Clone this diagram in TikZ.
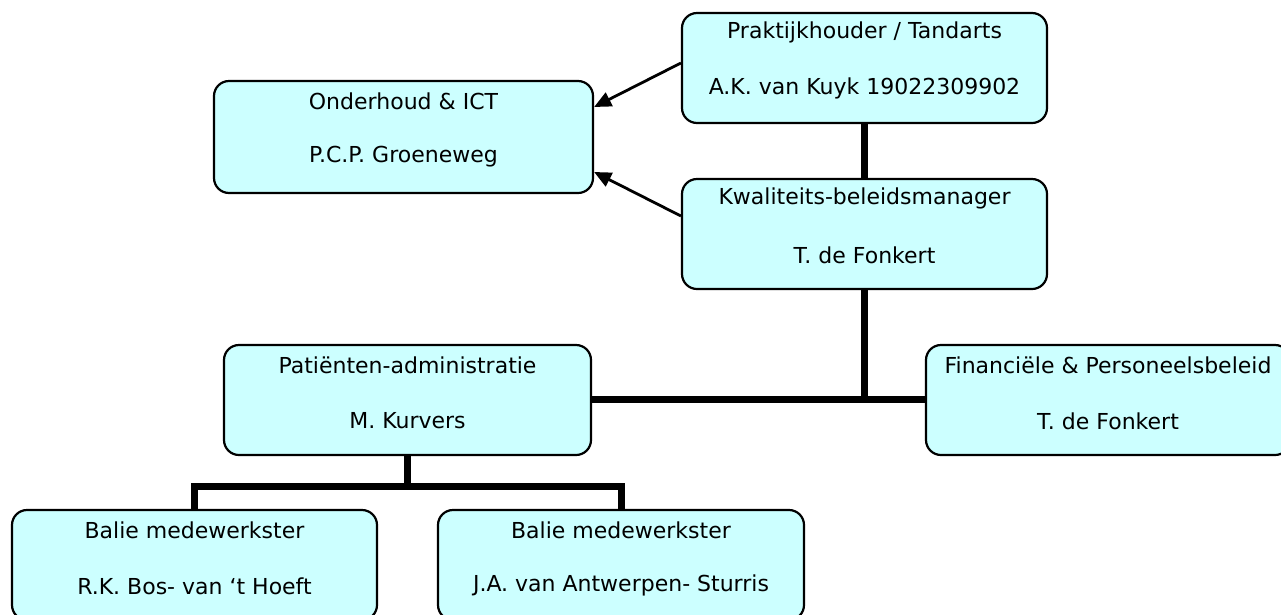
\documentclass[tikz,border=0pt]{standalone}
\usepackage{fontspec}
\setmainfont{DejaVu Sans}
\usetikzlibrary{arrows.meta}
\definecolor{boxfill}{HTML}{CCFFFF}
\tikzset{
  orgbox/.style={draw=black, line width=2.2pt, fill=boxfill, rounded corners=15pt, inner sep=0pt},
  orgtxt/.style={font=\fontsize{22}{24}\selectfont, inner sep=0pt, anchor=center, text=black},
  thickcon/.style={line width=7pt, draw=black},
  arrowcon/.style={line width=2.8pt, draw=black, -{Triangle[length=17pt,width=15pt]}}
}
\newcommand\mkorg[7]{%
  \node[orgbox, minimum width=#4pt, minimum height=#5pt] (#1) at (#2,#3) {};
  \node[orgtxt] (#1a) at ([yshift=-21pt]#1.north) {#6};
  \node[orgtxt] (#1b) at ([yshift=-77pt]#1.north) {#7};
}
\begin{document}
\begin{tikzpicture}[x=1pt,y=-1pt]
\useasboundingbox (0,0) rectangle (1281,614);
\begin{scope}
\clip (0,0) rectangle (1281,614);
\mkorg{prak}{864.5}{68}{365}{110}{Praktijkhouder / Tandarts}{A.K. van Kuyk 19022309902}
\mkorg{onder}{403.5}{137}{379}{112}{Onderhoud \& ICT}{P.C.P. Groeneweg}
\mkorg{kwal}{864.5}{234}{365}{110}{Kwaliteits-beleidsmanager}{T. de Fonkert}
\mkorg{pat}{407.5}{400}{367}{110}{Patiënten-administratie}{M. Kurvers}
\mkorg{fin}{1108}{400}{364}{110}{Financiële \& Personeelsbeleid}{T. de Fonkert}
\mkorg{balA}{194.5}{565}{365}{110}{Balie medewerkster}{R.K. Bos- van `t Hoeft}
\mkorg{balB}{621}{565}{366}{110}{Balie medewerkster}{J.A. van Antwerpen- Sturris}

\coordinate (mid) at (kwal.south |- 0,399);
\coordinate (split) at (pat.south |- 0,486);
\coordinate (lA) at (balA.north |- split);
\coordinate (lB) at (balB.north |- split);

\draw[thickcon] (prak.south) -- (kwal.north);
\draw[thickcon] (kwal.south) -- (mid);
\draw[thickcon] (pat.east |- mid) -- (fin.west |- mid);
\draw[thickcon] (pat.south) -- (split);
\draw[thickcon, line cap=rect] (lA) -- (lB);
\draw[thickcon] (lA) -- (balA.north);
\draw[thickcon] (lB) -- (balB.north);

\draw[arrowcon] ([yshift=5pt]prak.west) -- ([yshift=30pt]onder.east);
\draw[arrowcon] ([yshift=18pt]kwal.west) -- ([yshift=-35pt]onder.east);
\end{scope}
\end{tikzpicture}
\end{document}
